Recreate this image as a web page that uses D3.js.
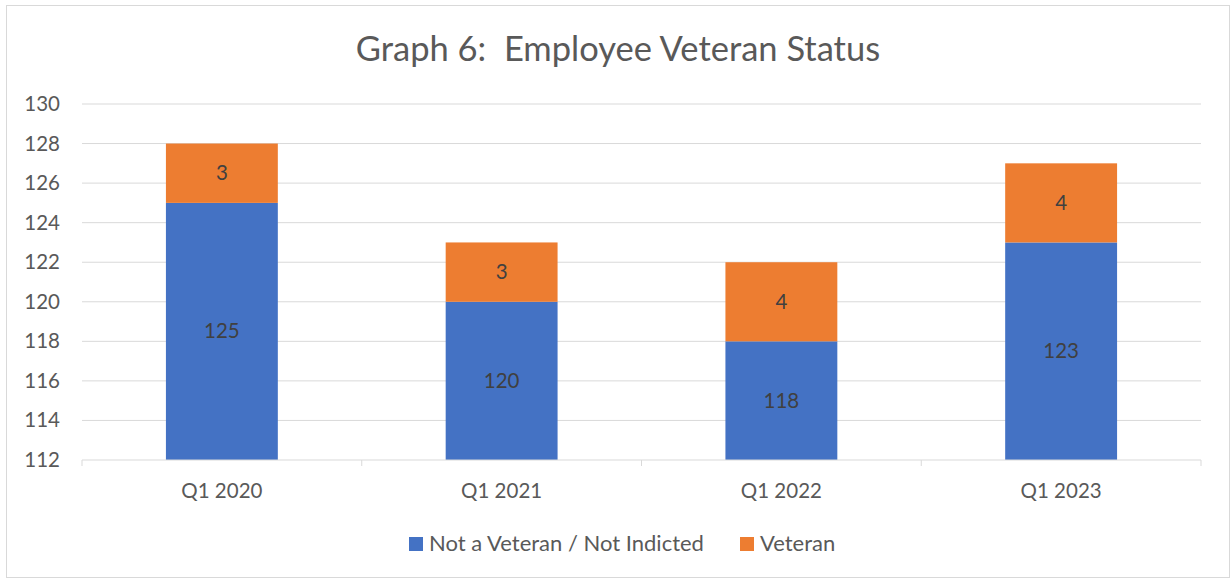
<!DOCTYPE html>
<html>
<head>
<meta charset="utf-8">
<script src="https://cdn.jsdelivr.net/npm/d3@7"></script>
<style>
  body { margin: 0; background: #fff; }
  text { font-family: Lato, "Open Sans", sans-serif; white-space: pre; }
</style>
</head>
<body>
<svg width="1231" height="579"></svg>
<script>
// data
const categories = ['Q1 2020', 'Q1 2021', 'Q1 2022', 'Q1 2023'];
const notVeteran = [125, 120, 118, 123];
const veteran = [3, 3, 4, 4];
const seriesNames = ['Not a Veteran / Not Indicted', 'Veteran'];
const yTicks = [112, 114, 116, 118, 120, 122, 124, 126, 128, 130];

const colors = ['#4472c4', '#ed7d31'];

const svg = d3.select('svg');
const width = +svg.attr('width');
const height = +svg.attr('height');

// chart border
svg.append('rect')
    .attr('x', 6.5).attr('y', 5.5)
    .attr('width', width - 8).attr('height', height - 7)
    .attr('fill', '#fff')
    .attr('stroke', '#d9d9d9');

svg.append('text')
    .attr('x', 618).attr('y', 61)
    .attr('text-anchor', 'middle')
    .attr('font-size', 34.5)
    .attr('fill', '#595959')
    .text('Graph 6:  Employee Veteran Status');

const margin = { left: 82, right: 30, top: 104, bottom: 119 };

const x = d3.scaleBand()
    .domain(categories)
    .range([margin.left, width - margin.right])
    .paddingInner(0.6)
    .paddingOuter(0.3);

const y = d3.scaleLinear()
    .domain([112, 130])
    .range([height - margin.bottom, margin.top]);

// gridlines
svg.append('g')
    .selectAll('line')
    .data(yTicks.slice(1))
    .join('line')
    .attr('x1', margin.left).attr('x2', width - margin.right)
    .attr('y1', d => y(d)).attr('y2', d => y(d))
    .attr('stroke', '#d9d9d9')
    .attr('stroke-width', 1);

// y labels
svg.append('g')
    .selectAll('text')
    .data(yTicks)
    .join('text')
    .attr('x', 60)
    .attr('y', d => y(d) + 7)
    .attr('text-anchor', 'end')
    .attr('font-size', 20.5)
    .attr('fill', '#595959')
    .text(d => d);

const stacked = categories.map((c, i) => ({
  cat: c,
  parts: [
    { s: 0, y0: 112, y1: notVeteran[i], v: notVeteran[i] },
    { s: 1, y0: notVeteran[i], y1: notVeteran[i] + veteran[i], v: veteran[i] }
  ]
}));

const groups = svg.append('g')
    .selectAll('g')
    .data(stacked)
    .join('g');

groups.selectAll('rect')
    .data(d => d.parts.map(p => ({ ...p, cat: d.cat })))
    .join('rect')
    .attr('x', d => x(d.cat))
    .attr('width', x.bandwidth())
    .attr('y', d => y(d.y1))
    .attr('height', d => y(d.y0) - y(d.y1))
    .attr('fill', d => colors[d.s]);

groups.selectAll('text')
    .data(d => d.parts.map(p => ({ ...p, cat: d.cat })))
    .join('text')
    .attr('x', d => x(d.cat) + x.bandwidth() / 2)
    .attr('y', d => (y(d.y0) + y(d.y1)) / 2 + 7)
    .attr('text-anchor', 'middle')
    .attr('font-size', 20.5)
    .attr('fill', '#404040')
    .text(d => d.v);

// x axis line with tick marks between categories
const step = x.step();
const axisG = svg.append('g');
axisG.append('line')
    .attr('x1', margin.left).attr('x2', width - margin.right)
    .attr('y1', y(112)).attr('y2', y(112))
    .attr('stroke', '#d9d9d9');
axisG.selectAll('.tk')
    .data(d3.range(categories.length + 1))
    .join('line')
    .attr('x1', i => margin.left + i * step)
    .attr('x2', i => margin.left + i * step)
    .attr('y1', y(112)).attr('y2', y(112) + 6)
    .attr('stroke', '#d9d9d9');
axisG.selectAll('text')
    .data(categories)
    .join('text')
    .attr('x', d => x(d) + x.bandwidth() / 2)
    .attr('y', y(112) + 38)
    .attr('text-anchor', 'middle')
    .attr('font-size', 20.5)
    .attr('fill', '#595959')
    .text(d => d);

// legend
const legendX = [409, 740];
const legend = svg.append('g')
    .selectAll('g')
    .data(seriesNames)
    .join('g')
    .attr('transform', (d, i) => `translate(${legendX[i]},537)`);
legend.append('rect')
    .attr('width', 14).attr('height', 14)
    .attr('fill', (d, i) => colors[i]);
legend.append('text')
    .attr('x', 20).attr('y', 14)
    .attr('font-size', 22)
    .attr('fill', '#595959')
    .text(d => d);
</script>
</body>
</html>
